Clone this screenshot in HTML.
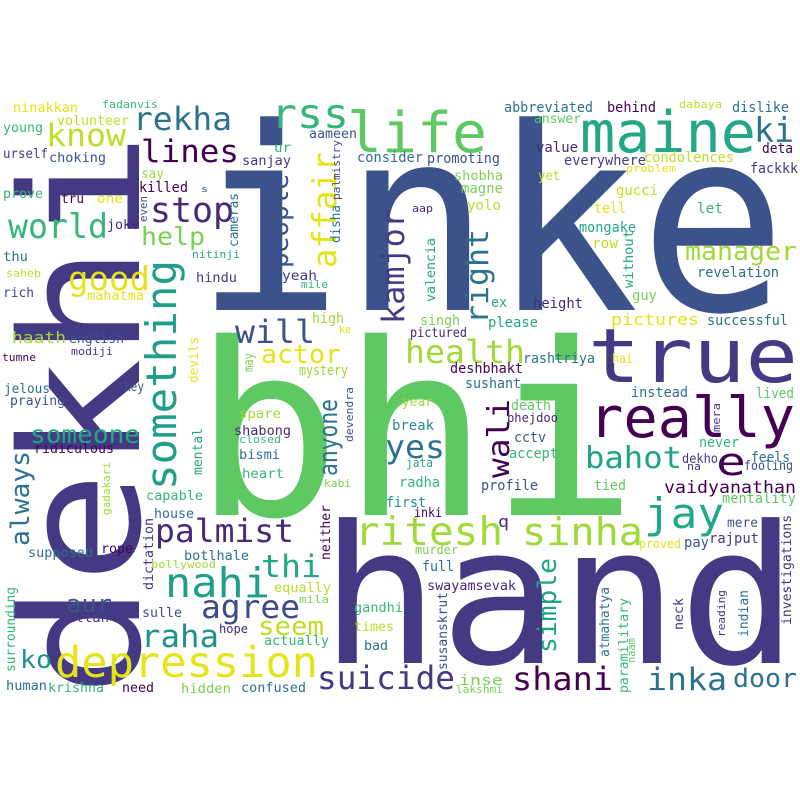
<!DOCTYPE html>
<html><head><meta charset="utf-8"><style>
html,body{margin:0;padding:0;background:#fff}
svg{display:block}
text{font-family:"DejaVu Sans Mono","Liberation Mono",monospace}
</style></head><body>
<svg id="cloud" width="800" height="800" viewBox="0 0 800 800">
<rect width="800" height="800" fill="#fff"/>
</svg>
<script>
// word, size, x, y (baseline; for rotated words: baseline x, start y), rotate, color, length
const words=[
["inke",255,195,310,0,"#3b528b",592],
["bhi",240,193,515,0,"#5ec962",445],
["hand",192,320,663,0,"#443983",478],
["dekhi",165,139,697,-90,"#443983",565],
["true",75,588,382,0,"#443983",210],
["really",56,589,437,0,"#440154",206],
["maine",57,580,152,0,"#22a884",176],
["life",56,347,152,0,"#5ec962",140],
["rss",41,271,128,0,"#35b779",78],
["ki",34,754,142,0,"#2c728e",40],
["know",31,46,146,0,"#bddf26",80],
["rekha",32,133,130,0,"#2c728e",99],
["lines",31,141,162,0,"#440154",98],
["stop",35,150,222,0,"#482878",84],
["world",34,8,238,0,"#35b779",100],
["good",33,68,290,0,"#e5e419",82],
["help",25,141,245,0,"#7ad151",64],
["something",42,176,490,-90,"#1f9e89",230],
["people",26,288,268,-90,"#3b528b",94],
["affair",33,336,268,-90,"#e5e419",116],
["kamjor",31,404,324,-90,"#443983",115],
["right",31,488,324,-90,"#2c728e",95],
["manager",26,685,260,0,"#a0da39",112],
["revelation",14,697,277,0,"#2c728e",82],
["will",32,235,343,0,"#3b528b",80],
["health",32,405,363,0,"#a0da39",120],
["actor",26,261,363,0,"#e5e419",80],
["pictures",16,611,325,0,"#e5e419",88],
["anyone",26,337,476,-90,"#2c728e",77],
["wali",30,509,478,-90,"#440154",79],
["yes",32,385,458,0,"#2c728e",60],
["bahot",30,585,468,0,"#20a486",97],
["e",38,716,475,0,"#440154",30],
["jay",42,644,528,0,"#22a884",80],
["ritesh",39,355,545,0,"#a0da39",148],
["sinha",38,522,545,0,"#a0da39",121],
["palmist",32,155,542,0,"#482878",139],
["thi",31,261,577,0,"#22a884",60],
["nahi",41,165,597,0,"#1f9e89",105],
["agree",32,201,618,0,"#3e4a89",99],
["raha",31,141,647,0,"#21918c",78],
["depression",43,55,677,0,"#e5e419",263],
["suicide",32,317,689,0,"#443983",138],
["shani",32,512,690,0,"#440154",101],
["inka",31,647,690,0,"#2c728e",80],
["door",26,733,687,0,"#2c728e",64],
["simple",26,556,653,-90,"#20a486",95],
["seem",26,258,635,0,"#bddf26",66],
["aur",24,66,612,0,"#3b528b",46],
["ko",25,20,668,0,"#21918c",32],
["someone",25,30,443,0,"#22a884",110],
["always",26,29,546,-90,"#2c728e",95],
["vaidyanathan",17,664,493,0,"#440154",132],
["ninakkan",13,13,112,0,"#e5e419",65],
["fadanvis",11,102,108,0,"#35b779",56],
["volunteer",13,57,125,0,"#bddf26",72],
["young",13,3,132,0,"#35b779",40],
["urself",13,3,158,0,"#443983",45],
["choking",13,49,162,0,"#3b528b",57],
["say",13,141,178,0,"#a0da39",23],
["killed",14,139,192,0,"#440154",49],
["s",9,201,192,0,"#3b528b",7],
["even",11,147,222,-90,"#3e4a89",26],
["prove",13,3,198,0,"#35b779",40],
["tru",13,61,203,0,"#440154",23],
["one",13,97,203,0,"#e5e419",26],
["joke",13,107,229,0,"#482878",32],
["thu",13,3,261,0,"#2c728e",25],
["saheb",11,6,277,0,"#bddf26",35],
["rich",13,3,297,0,"#3e4a89",31],
["mahatma",13,87,300,0,"#e5e419",57],
["haath",16,12,343,0,"#a0da39",54],
["english",13,69,343,0,"#3b528b",55],
["modiji",11,71,355,0,"#443983",42],
["tumne",11,2,361,0,"#440154",34],
["key",13,124,391,0,"#3b528b",20],
["jelous",13,4,393,0,"#2c728e",46],
["praying",13,10,405,0,"#3b528b",55],
["ridiculous",13,34,453,0,"#440154",80],
["devils",13,198,383,-90,"#e5e419",46],
["mental",13,202,475,-90,"#22a884",47],
["gadakari",11,110,515,-90,"#a0da39",53],
["capable",13,146,500,0,"#35b779",57],
["house",13,154,518,0,"#2c728e",40],
["supposed",13,28,557,0,"#2c728e",65],
["rope",13,101,553,0,"#440154",32],
["dictation",13,153,590,-90,"#443983",72],
["botlhale",13,184,560,0,"#2c728e",65],
["bollywood",11,151,568,0,"#a0da39",65],
["allah",13,67,622,0,"#443983",42],
["sulle",13,142,617,0,"#3b528b",40],
["hope",12,219,633,0,"#482878",29],
["surrounding",13,15,672,-90,"#35b779",85],
["equally",13,274,592,0,"#bddf26",57],
["mila",11,299,603,0,"#7ad151",30],
["actually",13,264,645,0,"#35b779",65],
["human",13,6,690,0,"#2c728e",41],
["krishna",13,48,692,0,"#35b779",56],
["need",13,122,692,0,"#440154",32],
["hidden",13,181,693,0,"#7ad151",50],
["confused",13,241,692,0,"#2c728e",65],
["abbreviated",14,504,112,0,"#2c728e",89],
["behind",14,607,112,0,"#440154",49],
["dabaya",11,679,108,0,"#bddf26",43],
["dislike",14,732,112,0,"#2c728e",57],
["answer",13,534,123,0,"#5ec962",47],
["aameen",13,309,138,0,"#3b528b",48],
["ur",13,274,152,0,"#35b779",17],
["sanjay",13,242,165,0,"#443983",49],
["palmistry",11,340,200,-90,"#3e4a89",60],
["disha",13,340,243,-90,"#2c728e",38],
["consider",14,357,162,0,"#2c728e",66],
["promoting",14,427,163,0,"#3b528b",73],
["value",14,536,152,0,"#482878",42],
["deta",14,762,153,0,"#440154",31],
["everywhere",14,564,165,0,"#443983",82],
["condolences",14,644,162,0,"#bddf26",90],
["fackkk",14,750,173,0,"#443983",48],
["problem",11,626,172,0,"#e5e419",50],
["yet",13,538,180,0,"#bddf26",22],
["shobha",13,454,180,0,"#7ad151",49],
["magne",14,461,193,0,"#7ad151",42],
["aap",11,412,212,0,"#482878",21],
["yolo",14,467,210,0,"#bddf26",34],
["gucci",14,616,195,0,"#bddf26",42],
["tell",14,594,213,0,"#e5e419",32],
["let",14,697,213,0,"#35b779",26],
["mongake",14,579,232,0,"#22a884",57],
["row",14,592,248,0,"#bddf26",26],
["without",13,633,288,-90,"#22a884",58],
["valencia",13,435,302,-90,"#22a884",64],
["cameras",13,238,247,-90,"#2c728e",54],
["nitinji",11,192,258,0,"#22a884",48],
["hindu",13,196,282,0,"#443983",41],
["yeah",13,282,280,0,"#443983",35],
["mile",11,301,288,0,"#35b779",27],
["guy",14,632,300,0,"#7ad151",25],
["ex",14,491,307,0,"#22a884",16],
["height",14,533,308,0,"#482878",50],
["high",14,312,323,0,"#a0da39",32],
["ke",11,339,333,0,"#e5e419",12],
["singh",14,420,325,0,"#7ad151",40],
["please",14,488,327,0,"#22a884",50],
["pictured",13,410,337,0,"#482878",57],
["successful",14,707,325,0,"#2c728e",81],
["rashtriya",14,523,363,0,"#2c728e",72],
["hai",13,612,363,0,"#e5e419",21],
["may",13,253,372,-90,"#7ad151",19],
["mystery",14,299,375,0,"#a0da39",49],
["deshbhakt",14,450,373,0,"#440154",73],
["sushant",14,465,388,0,"#2c728e",56],
["devendra",11,353,442,-90,"#3b528b",55],
["instead",14,631,397,0,"#2c728e",57],
["lived",14,756,398,0,"#5ec962",38],
["year",13,402,406,0,"#a0da39",31],
["death",14,511,410,0,"#5ec962",40],
["mera",11,720,432,-90,"#443983",29],
["spare",13,239,418,0,"#a0da39",42],
["bhejdoo",12,507,422,0,"#482878",51],
["break",14,392,430,0,"#21918c",42],
["shabong",13,234,435,0,"#482878",57],
["closed",11,239,443,0,"#35b779",42],
["cctv",14,514,442,0,"#3b528b",32],
["never",14,699,447,0,"#35b779",40],
["bismi",13,239,459,0,"#2c728e",41],
["accept",14,509,458,0,"#35b779",49],
["feels",14,751,462,0,"#2c728e",39],
["dekho",13,682,463,0,"#443983",36],
["jata",12,406,467,0,"#22a884",27],
["na",11,687,470,0,"#443983",14],
["fooling",13,744,470,0,"#3b528b",49],
["heart",13,242,478,0,"#35b779",42],
["kabi",11,324,487,0,"#7ad151",27],
["radha",14,399,487,0,"#35b779",41],
["profile",14,481,490,0,"#3b528b",57],
["tied",14,594,490,0,"#5ec962",32],
["mentality",14,722,503,0,"#5ec962",74],
["first",14,386,507,0,"#21918c",40],
["inki",13,414,517,0,"#440154",28],
["neither",13,330,560,-90,"#440154",55],
["q",16,498,527,0,"#482878",11],
["mere",13,727,527,0,"#3b528b",31],
["investigations",13,791,625,-90,"#443983",110],
["rajput",14,709,543,0,"#443983",50],
["pay",14,684,547,0,"#3b528b",25],
["proved",12,639,548,0,"#e5e419",42],
["murder",12,415,554,0,"#7ad151",43],
["full",14,422,571,0,"#2c728e",32],
["swayamsevak",13,427,590,0,"#482878",89],
["susanskrut",13,447,670,-90,"#3b528b",78],
["gandhi",13,354,612,0,"#35b779",49],
["times",13,354,631,0,"#bddf26",40],
["bad",13,364,650,0,"#2c728e",24],
["atmahatya",13,609,657,-90,"#2c728e",70],
["paramilitary",13,628,693,-90,"#35b779",95],
["naam",11,635,663,-90,"#5ec962",25],
["neck",13,683,630,-90,"#443983",32],
["reading",11,725,637,-90,"#443983",47],
["indian",13,748,637,-90,"#2c728e",47],
["inse",14,459,685,0,"#7ad151",44],
["lakshmi",11,456,693,0,"#7ad151",47]
];
const svg=document.getElementById('cloud');
for(const w of words){
  const t=document.createElementNS('http://www.w3.org/2000/svg','text');
  
  
  t.setAttribute('x',w[2]);t.setAttribute('y',w[3]);
  t.setAttribute('font-size',w[1]);t.setAttribute('fill',w[5]);
  if(w[6]){t.setAttribute('textLength',w[6]);t.setAttribute('lengthAdjust','spacingAndGlyphs');}
  if(w[4])t.setAttribute('transform','rotate('+w[4]+' '+w[2]+' '+w[3]+')');
  t.textContent=w[0];
  svg.appendChild(t);
}
</script>
</body></html>
